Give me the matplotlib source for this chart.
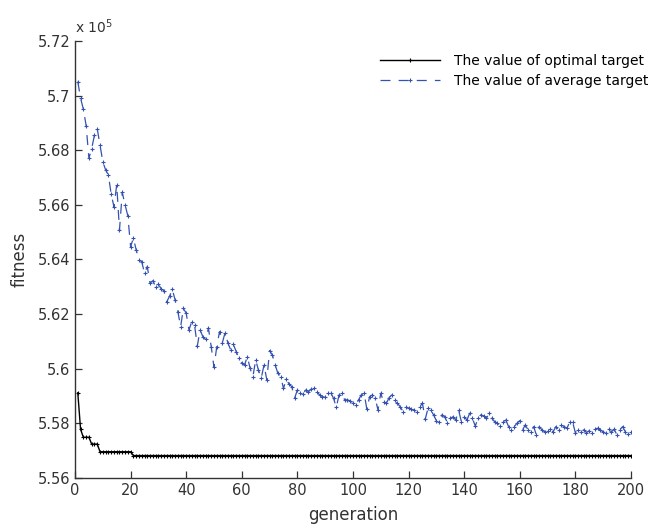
import numpy as np
import matplotlib
matplotlib.use('Agg')
import matplotlib.pyplot as plt

# fitness values, in units of 1e5
optimal = ([5.5912, 5.5778] + [5.5749] * 3 + [5.5724] * 3 + [5.5696] * 12
           + [5.5682] * 180)

average = [
    # 1-31
    5.7051, 5.6990, 5.6950, 5.6890, 5.6770, 5.6806, 5.6855, 5.6878, 5.6818, 5.6758,
    5.6728, 5.6709, 5.6640, 5.6593, 5.6673, 5.6508, 5.6645, 5.6600, 5.6560, 5.6447,
    5.6478, 5.6435, 5.6398, 5.6392, 5.6349, 5.6374, 5.6313, 5.6322, 5.6300, 5.6310,
    5.6292,
    # 32-62
    5.6286, 5.6245, 5.6265, 5.6291, 5.6252, 5.6209, 5.6154, 5.6221, 5.6203, 5.6142,
    5.6172, 5.6160, 5.6083, 5.6142, 5.6117, 5.6108, 5.6148, 5.6081, 5.6005, 5.6081,
    5.6136, 5.6095, 5.6132, 5.6094, 5.6069, 5.6089, 5.6062, 5.6038, 5.6020, 5.6014,
    5.6044,
    # 63-98
    5.6001, 5.5971, 5.6032, 5.5995, 5.5965, 5.6014, 5.5959, 5.6066, 5.6050, 5.6014,
    5.5983, 5.5971, 5.5928, 5.5961, 5.5944, 5.5934, 5.5892, 5.5922, 5.5912, 5.5907,
    5.5922, 5.5916, 5.5925, 5.5928, 5.5916, 5.5904, 5.5898, 5.5895, 5.5910, 5.5912,
    5.5892, 5.5859, 5.5904, 5.5912, 5.5886, 5.5886,
    # 99-131
    5.5882, 5.5876, 5.5867, 5.5886, 5.5904, 5.5912, 5.5851, 5.5898, 5.5904, 5.5892,
    5.5849, 5.5910, 5.5879, 5.5873, 5.5894, 5.5904, 5.5886, 5.5873, 5.5861, 5.5843,
    5.5861, 5.5855, 5.5851, 5.5849, 5.5843, 5.5861, 5.5873, 5.5815, 5.5855, 5.5849,
    5.5831, 5.5810, 5.5806,
    # 132-162
    5.5831, 5.5824, 5.5802, 5.5818, 5.5824, 5.5812, 5.5849, 5.5806, 5.5824, 5.5812,
    5.5837, 5.5818, 5.5790, 5.5818, 5.5831, 5.5827, 5.5818, 5.5837, 5.5818, 5.5806,
    5.5800, 5.5790, 5.5806, 5.5812, 5.5788, 5.5776, 5.5788, 5.5800, 5.5810, 5.5776,
    5.5794,
    # 163-200
    5.5776, 5.5769, 5.5788, 5.5757, 5.5788, 5.5776, 5.5769, 5.5773, 5.5778, 5.5769,
    5.5788, 5.5776, 5.5794, 5.5788, 5.5782, 5.5806, 5.5806, 5.5766, 5.5776, 5.5769,
    5.5776, 5.5766, 5.5773, 5.5764, 5.5778, 5.5782, 5.5776, 5.5769, 5.5764, 5.5778,
    5.5769, 5.5778, 5.5757, 5.5776, 5.5788, 5.5769, 5.5761, 5.5769,
]

gen = np.arange(1, len(average) + 1)
yticks = [5.56, 5.58, 5.6, 5.62, 5.64, 5.66, 5.68, 5.7, 5.72]
ytick_labels = ['5.56', '5.58', '5.6', '5.62', '5.64', '5.66', '5.68', '5.7', '5.72']

fig = plt.figure(figsize=(6.54, 5.26), dpi=100)
ax = fig.add_axes([0.1147, 0.0913, 0.850, 0.831])

blue = '#3552b0'
ax.plot(gen, optimal, color='black', lw=1.0, marker='+', ms=3.5, mew=0.8,
        label='The value of optimal target')
ax.plot(gen, average, color=blue, lw=0.9, ls=(0, (8, 6.5)), marker='+', ms=3.5,
        mew=0.8, label='The value of average target')

ax.set_xlim(0, 200)
ax.set_ylim(5.56, 5.72)
ax.set_xticks(range(0, 201, 20))
ax.set_yticks(yticks)
ax.set_yticklabels(ytick_labels)
ax.tick_params(direction='in', length=5, labelsize=10.5, colors='#333333', width=0.9)
for s in ['top', 'right']:
    ax.spines[s].set_visible(False)
for s in ['left', 'bottom']:
    ax.spines[s].set_color('#333333')
    ax.spines[s].set_linewidth(1.0)

ax.set_xlabel('generation', fontsize=12, color='#333333', labelpad=6)
ax.set_ylabel('fitness', fontsize=12, color='#333333', labelpad=6)
ax.text(0.0, 1.012, r'x 10$^5$', transform=ax.transAxes, fontsize=10,
        color='#333333', ha='left', va='bottom')

leg = ax.legend(loc='upper left', bbox_to_anchor=(0.5486, 0.97), frameon=False,
                fontsize=10, handlelength=4.3, handletextpad=1.0,
                labelspacing=0.45, borderpad=0, borderaxespad=0)

fig.savefig('out.png', dpi=100)
